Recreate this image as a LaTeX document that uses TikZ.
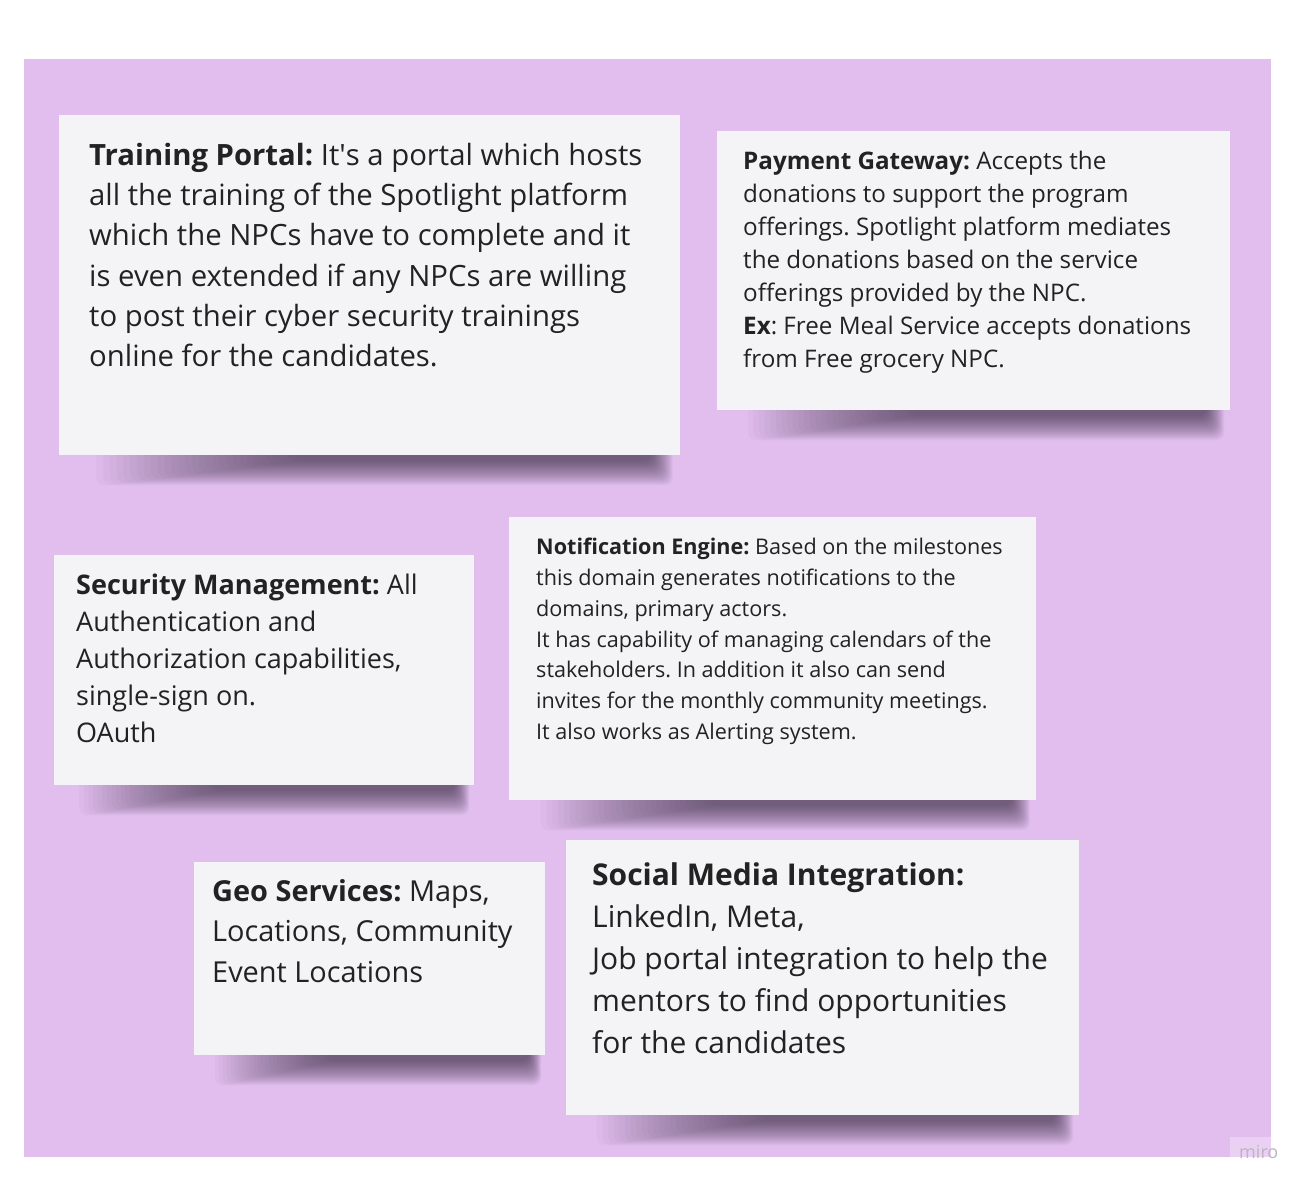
\documentclass[tikz,border=0pt]{standalone}
\usepackage{fontspec}
\setmainfont{Open Sans}
\frenchspacing
\usetikzlibrary{calc,backgrounds}

\definecolor{boardcol}{HTML}{E1BEEE}
\definecolor{notecol}{HTML}{F4F4F6}
\definecolor{inkcol}{HTML}{222222}
\definecolor{shadowcol}{HTML}{2E2438}
\definecolor{misccol}{HTML}{BDB3C2}

% blurred shadow under a sticky note
\newcommand{\noteshadow}[1]{%
  \foreach \k in {0,...,29}{
    \fill[shadowcol, opacity=0.026, rounded corners=8pt]
      ($(#1.south west)!0.06+0.011*\k!(#1.south east)+(0,-12)$) rectangle
      ($(#1.south east)!0.012+0.0012*\k!(#1.south west)+(0,30-0.85*\k)$);
  }%
}

\begin{document}
\begin{tikzpicture}[x=1pt, y=-1pt,
    note/.style={fill=notecol, inner sep=0pt, anchor=north west},
    notetext/.style={text=inkcol, inner sep=0pt, anchor=north west, align=left}
  ]
    \useasboundingbox (0,0) rectangle (1312,1190);

    % Sticky notes.
    \node[note, minimum width=621pt, minimum height=340pt] at (59,115) (training) {};
    \node[note, minimum width=513pt, minimum height=279pt] at (717,131) (payment) {};
    \node[note, minimum width=420pt, minimum height=230pt] at (54,555) (security) {};
    \node[note, minimum width=527pt, minimum height=283pt] at (509,517) (notify) {};
    \node[note, minimum width=351pt, minimum height=193pt] at (194,862) (geo) {};
    \node[note, minimum width=513pt, minimum height=275pt] at (566,840) (social) {};

    % Note texts.
    \node[notetext, font={\fontsize{29.3}{40.2}\selectfont}] at ([xshift=30pt,yshift=-28pt]training.north west) (trainingtext)
      {\textbf{Training Portal:} It\textquotesingle s a portal which hosts\\all the training of the Spotlight platform\\which the NPCs have to complete and it\\is even extended if any NPCs are willing\\to post their cyber security trainings\\online for the candidates.};
    \node[notetext, font={\fontsize{24.2}{33}\selectfont}] at ([xshift=26pt,yshift=-20pt]payment.north west) (paymenttext)
      {\textbf{Payment Gateway:} Accepts the\\donations to support the program\\offerings. Spotlight platform mediates\\the donations based on the service\\offerings provided by the NPC.\\\textbf{Ex}: Free Meal Service accepts donations\\from Free grocery NPC.};
    \node[notetext, font={\fontsize{27}{37}\selectfont}] at ([xshift=22pt,yshift=-19pt]security.north west) (securitytext)
      {\textbf{Security Management:} All\\Authentication and\\Authorization capabilities,\\single-sign on.\\OAuth};
    \node[notetext, font={\fontsize{21.6}{30.8}\selectfont}] at ([xshift=27pt,yshift=-21pt]notify.north west) (notifytext)
      {\textbf{Notification Engine:} Based on the milestones\\this domain generates notifications to the\\domains, primary actors.\\It has capability of managing calendars of the\\stakeholders. In addition it also can send\\invites for the monthly community meetings.\\It also works as Alerting system.};
    \node[notetext, font={\fontsize{28.9}{40.5}\selectfont}] at ([xshift=18pt,yshift=-17pt]geo.north west) (geotext)
      {\textbf{Geo Services:} Maps,\\Locations, Community\\Event Locations};
    \node[notetext, font={\fontsize{30}{42}\selectfont}] at ([xshift=26pt,yshift=-22pt]social.north west) (socialtext)
      {\textbf{Social Media Integration:}\\LinkedIn, Meta,\\Job portal integration to help the\\mentors to find opportunities\\for the candidates};

    % Watermark.
    \node[fill=boardcol!70!white, minimum width=41pt, minimum height=20pt, inner sep=0pt, anchor=north west] at (1230,1137) (miromark) {};
    \node[text=misccol, font={\fontsize{18}{18}\selectfont}, inner sep=0pt, anchor=base west] at (1239,1158) (miro) {miro};

    % Board and shadows.
    \begin{scope}[on background layer]
      \fill[boardcol] (24,59) rectangle (1271,1157);
      \foreach \n in {training,payment,security,notify,geo,social}{
        \noteshadow{\n}
      }
    \end{scope}
  \end{tikzpicture}
\end{document}
